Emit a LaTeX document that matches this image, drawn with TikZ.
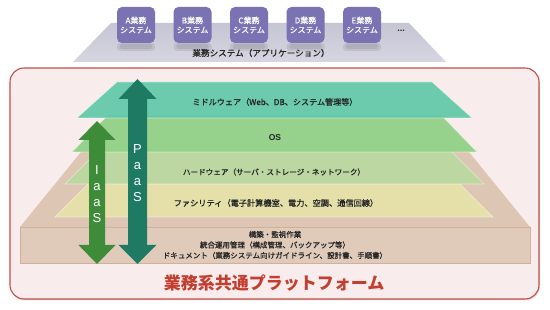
\documentclass[tikz,border=0pt]{standalone}
\usepackage{fontspec}
\setmainfont{Liberation Sans}
\newfontfamily\jp{Noto Sans CJK JP}
\newfontfamily\jpm[FakeBold=0.7]{Noto Sans CJK JP}
\usetikzlibrary{shadows}
\definecolor{framered}{RGB}{192,80,70}
\definecolor{framefill}{RGB}{249,236,236}
\definecolor{bandgray}{RGB}{198,197,212}
\definecolor{bandlight}{RGB}{214,213,225}
\definecolor{apppurple}{RGB}{122,114,178}
\definecolor{tealL}{RGB}{96,200,168}
\definecolor{osG}{RGB}{143,208,132}
\definecolor{hwG}{RGB}{186,217,160}
\definecolor{facY}{RGB}{230,227,170}
\definecolor{baseTop}{RGB}{222,198,180}
\definecolor{baseFront}{RGB}{224,202,186}
\definecolor{baseEdge}{RGB}{208,176,154}
\definecolor{iaasG}{RGB}{62,140,58}
\definecolor{paasG}{RGB}{30,122,98}
\definecolor{titlered}{RGB}{196,62,48}
\definecolor{txt}{RGB}{35,35,35}
\tikzset{
  appbox/.style={draw=none, fill=apppurple, rounded corners=5pt, minimum width=38pt, minimum height=36pt, inner sep=0pt, text=white, align=center, font=\jpm\fontsize{8}{9.5}\selectfont},
  layertext/.style={text=txt, inner sep=0pt, font=\jpm\fontsize{7.6}{9}\selectfont},
  basetext/.style={text=txt, inner sep=0pt, align=center, font=\jpm\fontsize{7.5}{10.5}\selectfont},
  layer/.style={fill opacity=0.92, draw=white, draw opacity=0.5, line width=0.6pt},
  arrowlabel/.style={text=white, inner sep=0pt, align=center, font=\fontsize{13}{16}\selectfont}
}
\begin{document}
\begin{tikzpicture}[x=1pt,y=-1pt]
\useasboundingbox (0,0) rectangle (550,310);
\fill[white] (0,0) rectangle (550,310);
% application band
\shade[top color=bandgray, bottom color=bandlight] (111,23) -- (409,23) -- (446,62) -- (73,62) -- cycle;
\foreach \cx in {136,192.5,249,305.5,362}{
  \fill[black, opacity=0.08, rounded corners=3pt] (\cx-19,43) rectangle (\cx+19,51);
  \fill[black, opacity=0.08, rounded corners=2pt] (\cx-16,44) rectangle (\cx+16,49);
}
\node[appbox] (appA) at (136,25) {A業務\\システム};
\node[appbox] (appB) at (192.5,25) {B業務\\システム};
\node[appbox] (appC) at (249,25) {C業務\\システム};
\node[appbox] (appD) at (305.5,25) {D業務\\システム};
\node[appbox] (appE) at (362,25) {E業務\\システム};
\node[text=txt, font=\bfseries\fontsize{9}{9}\selectfont, inner sep=0pt] (dots) at (401,31) {...};
\node[layertext, font=\jpm\fontsize{8.6}{9}\selectfont] (apps) at (261,53) {業務システム（アプリケーション）};
% platform frame
\draw[framered, line width=1.1pt, fill=framefill, rounded corners=14pt, drop shadow={opacity=0.25, shadow xshift=1pt, shadow yshift=-1.5pt}] (10,68) rectangle (539,299);
% base
\fill[baseTop] (81,152) -- (469,152) -- (530,227) -- (20,227) -- cycle;
\draw[baseEdge, line width=0.6pt, fill=baseFront] (20,227) rectangle (530,263);
% layers
\fill[facY, layer] (89,183) -- (459,183) -- (493,217) -- (55,217) -- cycle;
\fill[hwG, layer] (99,150) -- (450,150) -- (484,184) -- (65,184) -- cycle;
\fill[osG, layer] (108,115) -- (441,115) -- (477,152) -- (72,152) -- cycle;
\fill[tealL, layer] (117,82) -- (432,82) -- (472,118) -- (77,118) -- cycle;
% arrows
\fill[iaasG] (97,121) -- (115.5,140) -- (105,140) -- (105,245) -- (115.5,245) -- (97,264) -- (78.5,245) -- (89,245) -- (89,140) -- (78.5,140) -- cycle;
\fill[paasG] (137.5,79) -- (156.5,99) -- (147,99) -- (147,245) -- (156.5,245) -- (137.5,264) -- (118.5,245) -- (128,245) -- (128,99) -- (118.5,99) -- cycle;
\node[arrowlabel] (iaas) at (97,194) {I\\a\\a\\S};
\node[arrowlabel] (paas) at (137.5,173) {P\\a\\a\\S};
% texts
\node[layertext, font=\jpm\fontsize{8.1}{9}\selectfont] (mw) at (275,102) {ミドルウェア（Web、DB、システム管理等）};
\node[layertext, font=\bfseries\fontsize{8.5}{9}\selectfont] (os) at (275,138) {OS};
\node[layertext] (hw) at (274,172) {ハードウェア（サーバ・ストレージ・ネットワーク）};
\node[layertext, font=\jpm\fontsize{8.2}{9}\selectfont] (fac) at (276,203) {ファシリティ（電子計算機室、電力、空調、通信回線）};
\node[basetext] (ops) at (275,245) {構築・監視作業\\統合運用管理（構成管理、バックアップ等）\\ドキュメント（業務システム向けガイドライン、設計書、手順書）};
\node[text=titlered, inner sep=0pt, font=\jp\bfseries\fontsize{17}{17}\selectfont] (title) at (274,283) {業務系共通プラットフォーム};
\end{tikzpicture}
\end{document}
